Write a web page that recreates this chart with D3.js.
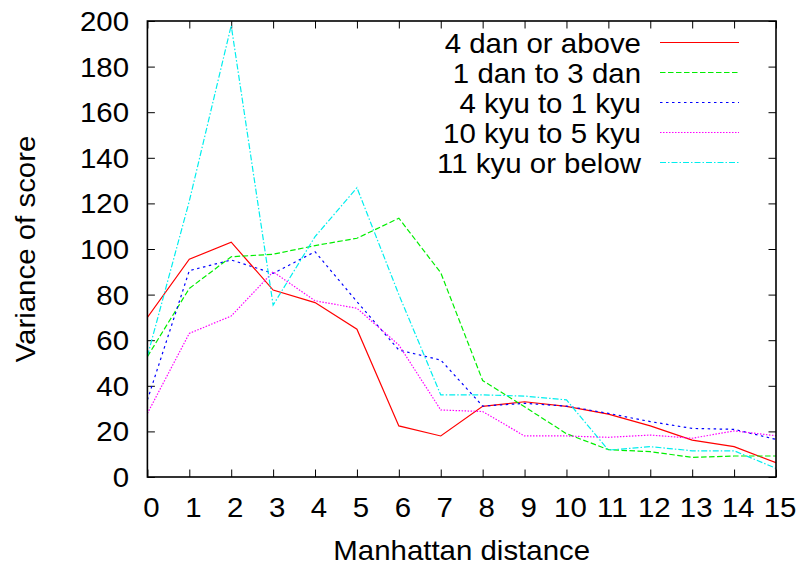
<!DOCTYPE html>
<html><head><meta charset="utf-8">
<script src="https://cdn.jsdelivr.net/npm/d3@7"></script>
<style>body{margin:0;background:#fff}svg{display:block}text{font-family:"Liberation Sans",Arial,sans-serif;fill:#000}</style>
</head><body>
<svg id="c" width="800" height="569"></svg>
<script>
const distances = d3.range(0, 16);
const seriesNames = ["4 dan or above", "1 dan to 3 dan", "4 kyu to 1 kyu", "10 kyu to 5 kyu", "11 kyu or below"];
const dan4Above  = [70, 95.5, 103, 82, 76.5, 64.8, 22.4, 18, 31, 33, 31, 27.6, 22.4, 16.2, 13.3, 6.3];
const dan1to3    = [52.8, 82.7, 96.6, 97.7, 101.5, 104.7, 113.5, 89.6, 42.3, 30.8, 19, 12, 11.1, 8.6, 9.2, 9.2];
const kyu4to1    = [33.8, 90.5, 95.2, 89.3, 98.8, 76.9, 55.7, 51.3, 31.1, 32.3, 31.1, 27.9, 24.3, 21.3, 20.9, 16.5];
const kyu10to5   = [27.9, 63, 70.6, 90, 77.3, 74, 57.9, 29.4, 28.7, 18, 18, 17.4, 18.4, 17, 20.2, 18.1];
const kyu11Below = [53, 121, 198, 75.4, 105.4, 126.9, 80, 36, 36, 35.5, 33.8, 11.8, 13.3, 11.5, 11.5, 3.8];
const yTicks = [0, 20, 40, 60, 80, 100, 120, 140, 160, 180, 200];
const xTicks = d3.range(0, 16);

const seriesValues = [dan4Above, dan1to3, kyu4to1, kyu10to5, kyu11Below];
const colors = ["#ff0000", "#00ee00", "#0000ff", "#ff00ff", "#00eeee"];
const dashes = [null, "5.5,2.5", "2.5,3.5", "1.5,1.5", "6,2,1.5,2"];

const svg = d3.select("#c");
const L = 147.4, R = 776, T = 21, B = 477;
const x = d3.scaleLinear().domain([0, 15]).range([L, R]);
const y = d3.scaleLinear().domain([0, 200]).range([B, T]);
const FS = 27, K = 1.09;

function label(g, tx, ty, str, anchor, rot) {
  const gg = g.append("g").attr("transform", `translate(${tx},${ty})` + (rot ? ` rotate(${rot})` : "") + ` scale(${K},1)`);
  gg.append("text").attr("text-anchor", anchor).attr("font-size", FS).text(str);
}

svg.append("defs").append("clipPath").attr("id", "clip")
  .append("rect").attr("x", L).attr("y", T).attr("width", R - L).attr("height", B - T);

// ticks (gnuplot-style, inward, mirrored)
const tl = 7.5;
const axisG = svg.append("g");
axisG.append("g").attr("transform", `translate(0,${B})`)
  .call(d3.axisBottom(x).tickValues(xTicks).tickSize(-tl).tickFormat(""))
  .call(g => g.select(".domain").remove());
axisG.append("g").attr("transform", `translate(0,${T})`)
  .call(d3.axisTop(x).tickValues(xTicks).tickSize(-tl).tickFormat(""))
  .call(g => g.select(".domain").remove());
axisG.append("g").attr("transform", `translate(${L},0)`)
  .call(d3.axisLeft(y).tickValues(yTicks).tickSize(-tl).tickFormat(""))
  .call(g => g.select(".domain").remove());
axisG.append("g").attr("transform", `translate(${R},0)`)
  .call(d3.axisRight(y).tickValues(yTicks).tickSize(-tl).tickFormat(""))
  .call(g => g.select(".domain").remove());
axisG.selectAll(".tick line").attr("stroke", "#000").attr("stroke-width", 1);

// tick labels
const labG = svg.append("g");
yTicks.forEach(v => label(labG, 129, y(v) + 10, String(v), "end"));
xTicks.forEach(v => label(labG, x(v) + 4, 517, String(v), "middle"));
label(labG, (L + R) / 2, 560, "Manhattan distance", "middle");
label(labG, 35, (T + B) / 2, "Variance of score", "middle", -90);

// lines
const line = d3.line().x((d, i) => x(distances[i])).y(d => y(d));
const lg = svg.append("g").attr("clip-path", "url(#clip)");
seriesValues.forEach((vals, i) => {
  lg.append("path").datum(vals).attr("d", line)
    .attr("fill", "none").attr("stroke", colors[i]).attr("stroke-width", 1.2)
    .attr("stroke-dasharray", dashes[i]);
});

// frame
svg.append("rect").attr("x", L).attr("y", T).attr("width", R - L).attr("height", B - T)
  .attr("fill", "none").attr("stroke", "#000").attr("stroke-width", 1.6);

// legend
const leg = svg.append("g");
seriesNames.forEach((name, i) => {
  const ly = 42.5 + i * 30;
  label(leg, 641, ly + 10, name, "end");
  leg.append("line").attr("x1", 660).attr("x2", 739).attr("y1", ly).attr("y2", ly)
    .attr("stroke", colors[i]).attr("stroke-width", 1.2).attr("stroke-dasharray", dashes[i]);
});
</script>
</body></html>
